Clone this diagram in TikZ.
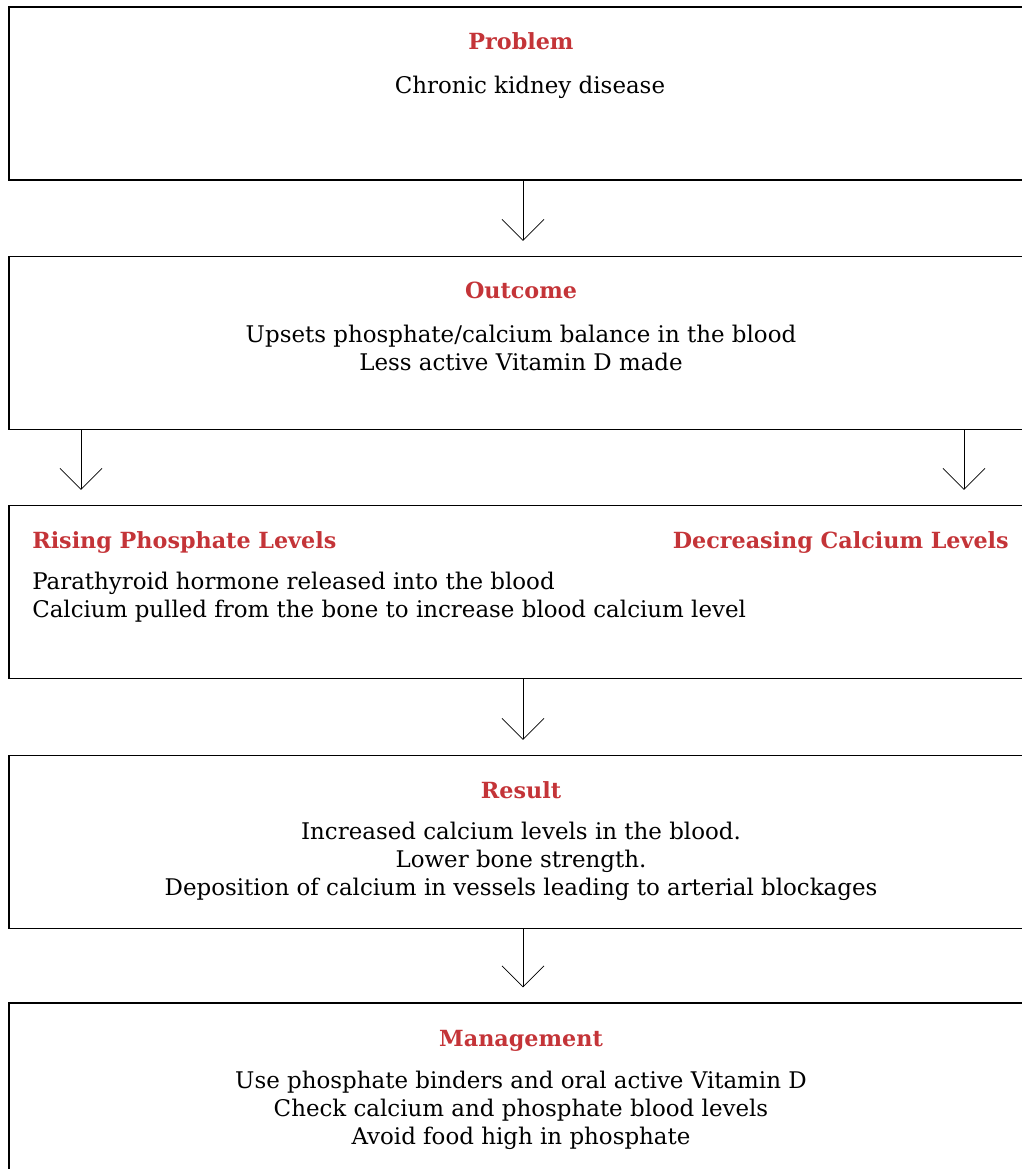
\documentclass[tikz,border=0pt]{standalone}
\usepackage{fontspec}
\setmainfont{DejaVu Serif}
\usetikzlibrary{arrows.meta}
\definecolor{titlered}{RGB}{196,52,56}

\begin{document}
\begin{tikzpicture}[x=0.75pt,y=-0.75pt,
	every node/.style={inner sep=0pt, font=\fontsize{17.2}{21}\selectfont},
	box/.style={draw, line width=0.8pt, minimum width=768pt, minimum height=129.75pt},
	head/.style={text=titlered, font=\fontsize{16.7}{21}\selectfont\bfseries},
	arr/.style={-{Straight Barb[length=15.75pt,width=31.5pt]}, line width=0.6pt, shorten >=11.25pt}]
	\useasboundingbox (0,0) rectangle (1021,1169);
	
	\node[box] (problem) at (521,93.5) {};
	\node[box] (outcome) at (521,343) {};
	\node[box] (levels) at (521,592) {};
	\node[box] (result) at (521,842) {};
	\node[box] (manage) at (521,1089.5) {};
	
	\node[head] (probT) at (521,41) {Problem};
	\node (probB) at (530,87) {Chronic kidney disease};
	
	\node[head] (outT) at (521,290) {Outcome};
	\node[align=center] (outB) at (521,347.5) {Upsets phosphate/calcium balance in the blood\\Less active Vitamin D made};
	
	\node[head, anchor=west] (riseT) at (32,543) {Rising Phosphate Levels};
	\node[head, anchor=east] (decT) at (1009,543) {Decreasing Calcium Levels};
	\node[align=left, anchor=west] (levB) at (32,597) {Parathyroid hormone released into the blood\\Calcium pulled from the bone to increase blood calcium level};
	
	\node[head] (resT) at (521,790) {Result};
	\node[align=center] (resB) at (521,861) {Increased calcium levels in the blood.\\Lower bone strength.\\Deposition of calcium in vessels leading to arterial blockages};
	
	\node[head] (manT) at (521,1041) {Management};
	\node[align=center] (manB) at (521,1110) {Use phosphate binders and oral active Vitamin D\\Check calcium and phosphate blood levels\\Avoid food high in phosphate};
	
	\coordinate (mid) at (523,0);
	\coordinate (left) at (81,0);
	\coordinate (right) at (964,0);
	
	\draw[arr] (problem.south -| mid) -- (outcome.north -| mid);
	\draw[arr] (outcome.south -| left) -- (levels.north -| left);
	\draw[arr] (outcome.south -| right) -- (levels.north -| right);
	\draw[arr] (levels.south -| mid) -- (result.north -| mid);
	\draw[arr] (result.south -| mid) -- (manage.north -| mid);
\end{tikzpicture}
\end{document}
